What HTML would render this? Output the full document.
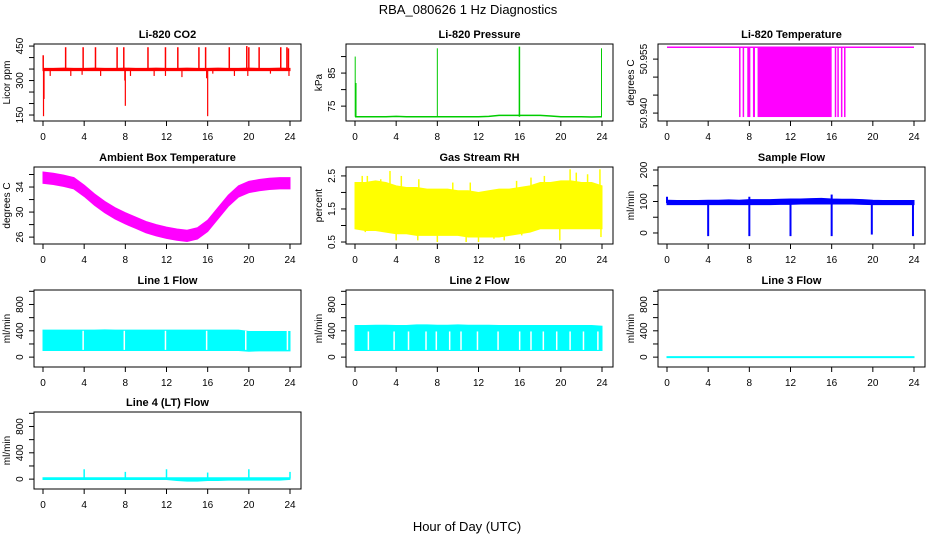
<!DOCTYPE html>
<html><head><meta charset="utf-8">
<style>
html,body{margin:0;padding:0;background:#fff;}
svg{display:block;font-family:"Liberation Sans",sans-serif;}
</style></head>
<body>
<svg id="chart" width="936" height="540" viewBox="0 0 936 540" xmlns="http://www.w3.org/2000/svg">
<rect x="0" y="0" width="936" height="540" fill="#fff"/>
<text x="468" y="14" font-size="13" text-anchor="middle">RBA_080626  1 Hz Diagnostics</text>
<text x="467" y="531" font-size="13" text-anchor="middle">Hour of Day (UTC)</text>
</svg>
<script>
// ---- data ----
const xTicks = [0,4,8,12,16,20,24];
const hours = [0,1,2,3,4,5,6,7,8,9,10,11,12,13,14,15,16,17,18,19,20,21,22,23,24];

const co2Lo = [343,343,343,343,343,343,343,343,343,343,343,343,343,343,343,343,343,343,343,343,343,343,343,343,343];
const co2Hi = [353,353,354,353,353,354,353,353,354,353,353,354,353,353,354,353,353,354,353,353,354,353,353,354,353];
const co2SpikeHours = [0.02,2.2,3.9,5.1,7.2,7.85,10.2,11.9,13.1,15.15,15.8,18.1,19.8,20.0,21.0,23.1,23.7,23.85];
const co2SpikeTops = [410,445,445,445,445,445,445,445,445,445,445,445,450,445,445,445,445,440];
const co2DipHours = [0.05,0.1,0.7,2.7,3.8,5.6,7.95,8.0,8.5,10.8,11.9,13.5,15.9,16.0,16.5,18.6,19.9,22.1,23.9];
const co2DipBottoms = [145,220,320,320,325,320,300,190,320,320,320,315,310,145,330,320,320,330,320];

const presBase = [71.8,71.8,71.8,71.8,71.9,71.8,71.8,71.8,71.8,71.8,71.8,71.8,71.8,71.9,72.2,72.2,72.2,72.2,72.2,72.0,71.8,71.8,71.8,71.7,71.8];
const presSpikeHours = [0.02,0.1,8.0,15.95,16.0,23.95];
const presSpikeTops = [90,82,92.5,93,93,92.5];

const tempTop = 50.9583;
const tempBottom = 50.9389;
const tempDropStarts = [7.0,7.35,7.8,8.35,8.8,16.3,16.55,16.9,17.2];
const tempDropEnds   = [7.1,7.45,8.1,8.55,16.0,16.4,16.65,17.0,17.3];

const ambMid = [35.5,35.3,35.0,34.6,33.4,32.0,30.8,29.8,29.0,28.3,27.6,27.1,26.7,26.4,26.2,26.6,27.8,29.8,31.8,33.3,34.0,34.3,34.5,34.6,34.6];
const ambHalfWidth = [0.9,0.9,0.9,0.9,0.9,0.9,0.9,0.9,0.9,0.9,0.9,0.9,0.9,0.9,0.9,0.9,0.9,0.9,0.9,0.9,0.9,0.9,0.9,0.9,0.9];

const rhHi = [2.3,2.3,2.35,2.3,2.2,2.15,2.15,2.1,2.1,2.1,2.05,2.05,2.0,2.05,2.1,2.1,2.15,2.2,2.3,2.3,2.35,2.35,2.3,2.3,2.2];
const rhLo = [0.9,0.85,0.85,0.8,0.75,0.75,0.7,0.7,0.7,0.7,0.7,0.65,0.65,0.65,0.65,0.7,0.75,0.8,0.9,0.9,0.9,0.9,0.9,0.9,0.9];
const rhPeakHours = [0.7,1.2,2.5,3.4,4.5,6.2,9.5,11.2,15.7,17.1,18.4,20.9,21.5,22.6,23.8];
const rhPeakValues = [2.5,2.5,2.4,2.65,2.5,2.4,2.3,2.3,2.35,2.45,2.5,2.7,2.6,2.55,2.7];
const rhDipHours = [1.0,4.0,6.1,8.0,10.8,12.0,13.5,14.5,16.2,19.9,23.9];
const rhDipValues = [0.8,0.55,0.55,0.5,0.5,0.5,0.6,0.55,0.7,0.55,0.65];

const sfLo = [90,90,90,90,90,90,90,90,90,90,90,91,91,92,92,92,92,92,92,91,90,90,90,90,90];
const sfHi = [104,103,103,103,104,104,105,104,106,106,106,107,108,108,109,110,108,107,107,106,104,103,103,103,103];
const sfDipHours = [4.0,8.0,12.0,16.0,19.9,23.9];
const sfDipValues = [-10,-10,-10,-10,-5,-10];
const sfPeakHours = [0.0,8.0,16.0];
const sfPeakValues = [115,115,122];

const l1Lo = [100,100,100,100,100,100,100,100,100,100,100,100,100,100,100,100,100,100,100,100,90,95,95,95,95];
const l1Hi = [410,410,410,410,410,410,415,410,410,410,410,410,410,410,410,410,410,410,410,410,390,390,390,390,390];
const l1GapHours = [3.9,7.9,11.9,15.9,19.7,23.75];

const l2Lo = [100,100,100,100,100,100,100,100,100,100,100,100,100,100,100,100,100,100,100,100,100,100,100,100,100];
const l2Hi = [480,480,485,485,480,480,490,490,485,485,490,485,485,485,480,480,480,480,480,480,480,480,480,480,470];
const l2GapHours = [1.3,3.8,5.2,6.9,7.9,9.2,10.3,11.9,13.9,16.0,17.1,18.3,19.6,20.9,22.2,23.6];

const l3Lo = [-8,-8,-8,-8,-8,-8,-8,-8,-8,-8,-8,-8,-8,-8,-8,-8,-8,-8,-8,-8,-8,-8,-8,-8,-8];
const l3Hi = [8,8,8,8,8,8,8,8,8,8,8,8,8,8,8,8,8,8,8,8,8,8,8,8,8];

const l4Lo = [-5,-5,-5,-5,-5,-5,-5,-5,-5,-5,-5,-5,-5,-20,-30,-30,-20,-20,-15,-15,-15,-15,-15,-15,-5];
const l4Hi = [20,20,20,20,20,20,20,20,20,20,20,20,20,20,20,20,20,20,20,20,20,20,20,20,20];
const l4SpikeHours = [4.0,8.0,12.0,16.0,20.0,24.0];
const l4SpikeValues = [150,110,150,100,150,110];

// ---- helpers ----
const svg = document.getElementById('chart');
const NS = 'http://www.w3.org/2000/svg';
function mk(tag, attrs, parent){
  const e = document.createElementNS(NS, tag);
  for (const k in attrs) e.setAttribute(k, attrs[k]);
  (parent||svg).appendChild(e);
  return e;
}
const colX = [34,346,658];
const rowY = [44,167,290,412];
const BW = 267, BH = 77;

function makePanel(col,row,title,ylab,ymin,ymax,yticks,ylabels){
  const x0 = colX[col], y0 = rowY[row];
  const g = mk('g',{});
  
  
  const xs = h => x0 + 9 + h*(247/24);
  const ys = v => y0 + BH - (v - ymin)/(ymax - ymin)*BH;
  const p = {g, xs, ys, x0, y0};
  const t = mk('text',{x:x0+BW/2, y:y0-6, 'font-size':11, 'font-weight':'bold','text-anchor':'middle'},g);
  t.textContent = title;
  
  
  const xa = mk('g',{},g);
  
  
  mk('line',{x1:xs(0),x2:xs(24),y1:y0+BH,y2:y0+BH,stroke:'#000'},xa);
  xTicks.forEach(v=>{
    mk('line',{x1:xs(v),x2:xs(v),y1:y0+BH,y2:y0+BH+5,stroke:'#000'},xa);
    const tl = mk('text',{x:xs(v),y:y0+BH+19,'font-size':10,'text-anchor':'middle'},xa);
    tl.textContent = v;
    
    
  });
  const ya = mk('g',{},g);
  
  
  mk('line',{x1:x0,x2:x0,y1:ys(yticks[0]),y2:ys(yticks[yticks.length-1]),stroke:'#000'},ya);
  yticks.forEach(v=>{
    mk('line',{x1:x0-5,x2:x0,y1:ys(v),y2:ys(v),stroke:'#000'},ya);
  });
  ylabels.forEach(v=>{
    const yy = ys(parseFloat(v));
    const tl = mk('text',{x:x0-11,y:yy,'font-size':10,'text-anchor':'middle',transform:`rotate(-90 ${x0-11} ${yy})`},ya);
    tl.textContent = v;
    
    
  });
  const yl = mk('text',{x:x0-24,y:y0+BH/2,'font-size':10,'text-anchor':'middle',transform:`rotate(-90 ${x0-24} ${y0+BH/2})`},ya);
  yl.textContent = ylab;
  
  
  p.plot = mk('g',{},g);
  
  
  return p;
}
function finishPanel(p){
  const b = mk('rect',{x:p.x0,y:p.y0,width:BW,height:BH,fill:'none',stroke:'#000'},p.g);
  
  
}
function band(p, xsArr, lo, hi, color){
  let d = '';
  xsArr.forEach((h,i)=>{ d += (i?'L':'M') + p.xs(h) + ' ' + p.ys(hi[i]) + ' '; });
  for (let i = xsArr.length-1; i>=0; i--) d += 'L' + p.xs(xsArr[i]) + ' ' + p.ys(lo[i]) + ' ';
  const e = mk('path',{d:d+'Z',fill:color,stroke:color,'stroke-width':1},p.plot);
  
  
}
function vlines(p, hs, from, to, color, w){
  hs.forEach((h,i)=>{
    const a = Array.isArray(from)?from[i]:from;
    const e = mk('line',{x1:p.xs(h),x2:p.xs(h),y1:p.ys(a),y2:p.ys(to[i]),stroke:color,'stroke-width':w||1.5},p.plot);
    
    
  });
}

let p = makePanel(0,0,'Li-820 CO2','Licor ppm',124,459,[150,200,250,300,350,400,450],['150','300','450']);
band(p,hours,co2Lo,co2Hi,'#ff0000');
vlines(p,co2SpikeHours,348,co2SpikeTops,'#ff0000',1.5);
vlines(p,co2DipHours,348,co2DipBottoms,'#ff0000',1.2);
finishPanel(p);

p = makePanel(1,0,'Li-820 Pressure','kPa',70.5,93.8,[75,80,85,90],['75','85']);
{
  let d='';
  hours.forEach((h,i)=>{ d += (i?'L':'M') + p.xs(h) + ' ' + p.ys(presBase[i]) + ' '; });
  const e = mk('path',{d:d,fill:'none',stroke:'#00cc00','stroke-width':1.5},p.plot);
  
  
}
vlines(p,presSpikeHours,71.8,presSpikeTops,'#00cc00',1);
finishPanel(p);

p = makePanel(2,0,'Li-820 Temperature','degrees C',50.9378,50.9592,[50.940,50.945,50.950,50.955],['50.940','50.955']);
{
  const e = mk('line',{x1:p.xs(0),x2:p.xs(24),y1:p.ys(tempTop),y2:p.ys(tempTop),stroke:'#ff00ff','stroke-width':1.5},p.plot);
  
  
  tempDropStarts.forEach((s,i)=>{
    const r = mk('rect',{x:p.xs(s),y:p.ys(tempTop),width:Math.max(1.5,p.xs(tempDropEnds[i])-p.xs(s)),height:p.ys(tempBottom)-p.ys(tempTop),fill:'#ff00ff'},p.plot);
    
    
  });
}
finishPanel(p);

p = makePanel(0,1,'Ambient Box Temperature','degrees C',24.9,37.2,[26,28,30,32,34,36],['26','30','34']);
band(p,hours,ambMid.map((v,i)=>v-ambHalfWidth[i]),ambMid.map((v,i)=>v+ambHalfWidth[i]),'#ff00ff');
finishPanel(p);

p = makePanel(1,1,'Gas Stream RH','percent',0.44,2.77,[0.5,1.0,1.5,2.0,2.5],['0.5','1.5','2.5']);
band(p,hours,rhLo,rhHi,'#ffff00');
vlines(p,rhPeakHours,1.5,rhPeakValues,'#ffff00',1.5);
vlines(p,rhDipHours,1.5,rhDipValues,'#ffff00',1.5);
finishPanel(p);

p = makePanel(2,1,'Sample Flow','ml/min',-35,209.5,[0,50,100,150,200],['0','100','200']);
band(p,hours,sfLo,sfHi,'#0000ff');
vlines(p,sfDipHours,95,sfDipValues,'#0000ff',2);
vlines(p,sfPeakHours,95,sfPeakValues,'#0000ff',2);
finishPanel(p);

const lfTicks = [0,200,400,600,800,1000];
const lfLabels = ['0','400','800'];
p = makePanel(0,2,'Line 1 Flow','ml/min',-150,1020,lfTicks,lfLabels);
band(p,hours,l1Lo,l1Hi,'#00ffff');
vlines(p,l1GapHours,l1GapHours.map(()=>110),l1GapHours.map(()=>400),'#ffffff',1.5);
finishPanel(p);

p = makePanel(1,2,'Line 2 Flow','ml/min',-150,1020,lfTicks,lfLabels);
band(p,hours,l2Lo,l2Hi,'#00ffff');
vlines(p,l2GapHours,110,l2GapHours.map(()=>390),'#ffffff',1.5);
finishPanel(p);

p = makePanel(2,2,'Line 3 Flow','ml/min',-150,1020,lfTicks,lfLabels);
band(p,hours,l3Lo,l3Hi,'#00ffff');
finishPanel(p);

p = makePanel(0,3,'Line 4 (LT) Flow','ml/min',-150,1020,lfTicks,lfLabels);
band(p,hours,l4Lo,l4Hi,'#00ffff');
vlines(p,l4SpikeHours,10,l4SpikeValues,'#00ffff',1.5);
finishPanel(p);
</script>
</body></html>
